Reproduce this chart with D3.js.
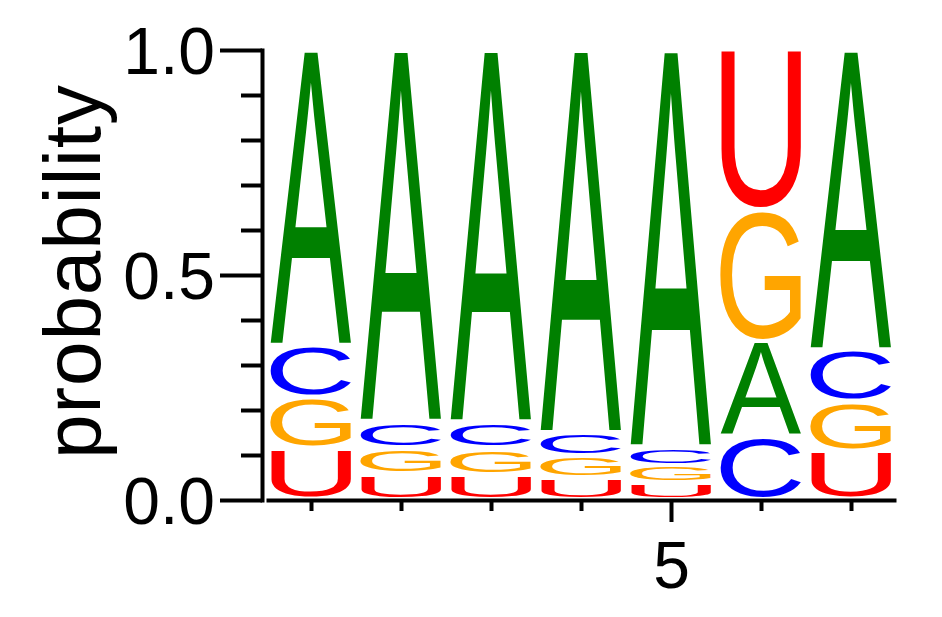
<!DOCTYPE html>
<html>
<head>
<meta charset="utf-8">
<script src="https://cdn.jsdelivr.net/npm/d3@7"></script>
<style>
  body { margin: 0; background: #fff; }
</style>
</head>
<body>
<script>
// sequence logo, probability per position
const positions = [1, 2, 3, 4, 5, 6, 7];
const probA = [0.657, 0.826, 0.827, 0.851, 0.883, 0.212, 0.667];
const probC = [0.116, 0.059, 0.059, 0.051, 0.041, 0.140, 0.115];
const probG = [0.114, 0.058, 0.058, 0.050, 0.039, 0.291, 0.110];
const probU = [0.113, 0.057, 0.056, 0.048, 0.037, 0.357, 0.108];

const bases = ['A', 'C', 'G', 'U'];
const baseColors = ['#008000', '#0000ff', '#ffa500', '#ff0000'];

const yTicks = [0, 0.1, 0.2, 0.3, 0.4, 0.5, 0.6, 0.7, 0.8, 0.9, 1.0];
const yTickLabels = ['0.0', '', '', '', '', '0.5', '', '', '', '', '1.0'];
const xTicks = [1, 2, 3, 4, 5, 6, 7];
const xMajor = [5];

const font = "'Liberation Sans', Arial, Helvetica, sans-serif";
const width = 942, height = 617;

const svg = d3.select('body').append('svg')
  .attr('width', width)
  .attr('height', height);

const x = d3.scaleLinear().domain([0.5, 7.5]).range([266, 896]);
const y = d3.scaleLinear().domain([0, 1]).range([500, 50]);
const colorScale = d3.scaleOrdinal().domain(bases).range(baseColors);

// ink box of each glyph, measured once on a canvas
const ctx = document.createElement('canvas').getContext('2d');
ctx.font = `100px ${font}`;
const inkBox = {};
bases.forEach(b => {
  const m = ctx.measureText(b);
  inkBox[b] = {
    l: m.actualBoundingBoxLeft, r: m.actualBoundingBoxRight,
    a: m.actualBoundingBoxAscent, d: m.actualBoundingBoxDescent
  };
});

// stack letters: smallest at the bottom
const columns = positions.map((p, i) => {
  const vals = [
    { base: 'A', value: probA[i] },
    { base: 'C', value: probC[i] },
    { base: 'G', value: probG[i] },
    { base: 'U', value: probU[i] }
  ].sort((a, b) => a.value - b.value);
  let cum = 0;
  vals.forEach(v => { v.y0 = cum; cum += v.value; v.y1 = cum; v.pos = p; });
  return vals;
});

const glyphW = (x(2) - x(1)) * 0.9;
const padTop = 2, padBot = 3;

const logo = svg.append('g');
logo.selectAll('g.col')
  .data(columns)
  .join('g')
  .attr('class', 'col')
  .selectAll('text')
  .data(d => d)
  .join('text')
  .attr('x', 0)
  .attr('y', 0)
  .style('font-family', font)
  .style('font-size', '100px')
  .style('fill', d => colorScale(d.base))
  .attr('transform', d => {
    const box = inkBox[d.base];
    const top = y(d.y1) + padTop;
    const bot = y(d.y0) - padBot;
    const h = Math.max(bot - top, 1);
    const sx = glyphW / (box.l + box.r);
    const sy = h / (box.a + box.d);
    const bx = x(d.pos) - glyphW / 2;
    return `translate(${bx},${top}) scale(${sx},${sy}) translate(${box.l},${box.a})`;
  })
  .text(d => d.base);

// y axis
const yAxis = svg.append('g')
  .attr('transform', 'translate(262,0)')
  .call(d3.axisLeft(y)
    .tickValues(yTicks)
    .tickSize(21)
    .tickSizeOuter(0)
    .tickFormat((d, i) => yTickLabels[i]));

yAxis.select('.domain')
  .style('stroke', '#000')
  .style('stroke-width', 4)
  .style('stroke-linecap', 'square');

yAxis.selectAll('.tick line')
  .attr('x2', (d, i) => yTickLabels[i] ? -42 : -21)
  .style('stroke', '#000')
  .style('stroke-width', 4);

yAxis.selectAll('.tick text')
  .attr('x', -47)
  .attr('dy', '0.36em')
  .style('font-family', font)
  .style('font-size', '66px')
  .style('fill', '#000');

// x axis
const xAxis = svg.append('g')
  .attr('transform', 'translate(0,500)')
  .call(d3.axisBottom(x)
    .tickValues(xTicks)
    .tickSize(11)
    .tickSizeOuter(0)
    .tickFormat(d => xMajor.includes(d) ? String(d) : ''));

xAxis.select('.domain')
  .style('stroke', '#000')
  .style('stroke-width', 4);

xAxis.selectAll('.tick line')
  .attr('y2', d => xMajor.includes(d) ? 22 : 11)
  .style('stroke', '#000')
  .style('stroke-width', 4);

xAxis.selectAll('.tick text')
  .attr('y', 88)
  .attr('dy', 0)
  .style('font-family', font)
  .style('font-size', '66px')
  .style('fill', '#000');

// y label
svg.append('text')
  .attr('transform', 'translate(100,272) rotate(-90)')
  .attr('text-anchor', 'middle')
  .attr('textLength', 374)
  .style('font-family', font)
  .style('font-size', '80px')
  .style('fill', '#000')
  .text('probability');
</script>
</body>
</html>
